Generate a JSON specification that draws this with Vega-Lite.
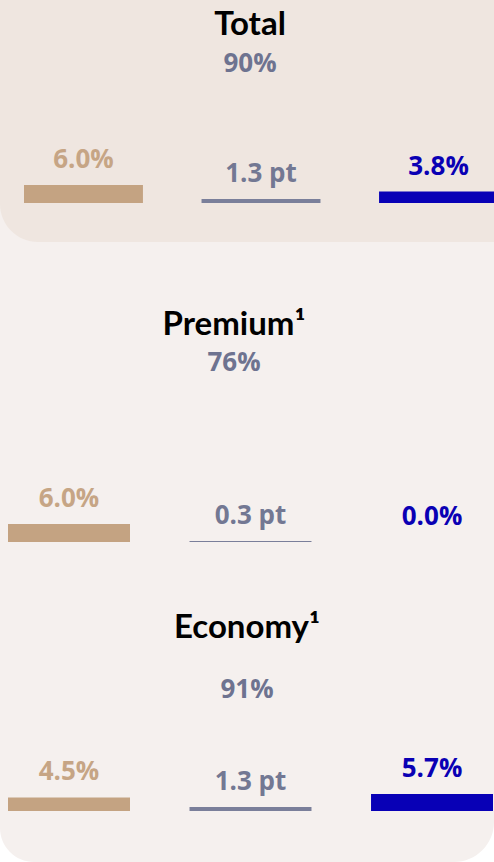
{
  "$schema": "https://vega.github.io/schema/vega-lite/v6.json",
  "background": "white",
  "padding": 0,
  "spacing": 0,
  "config": {"view": {"stroke": null}, "concat": {"spacing": 0}},
  "datasets": {
    "bars": [
      {"panel": "Total", "metric": "left", "value": 6.0, "label": "6.0%"},
      {"panel": "Total", "metric": "mid", "value": 1.3, "label": "1.3 pt"},
      {"panel": "Total", "metric": "right", "value": 3.8, "label": "3.8%"},
      {"panel": "Premium", "metric": "left", "value": 6.0, "label": "6.0%"},
      {"panel": "Premium", "metric": "mid", "value": 0.3, "label": "0.3 pt"},
      {"panel": "Premium", "metric": "right", "value": 0.0, "label": "0.0%"},
      {"panel": "Economy", "metric": "left", "value": 4.5, "label": "4.5%"},
      {"panel": "Economy", "metric": "mid", "value": 1.3, "label": "1.3 pt"},
      {"panel": "Economy", "metric": "right", "value": 5.7, "label": "5.7%"}
    ]
  },
  "vconcat": [
    {
      "width": 494,
      "height": 242,
      "title": {"text": "Total", "subtitle": "90%", "frame": "group", "anchor": "middle", "orient": "top", "offset": -77, "dx": 3, "font": "Lato", "fontSize": 33, "fontWeight": "bold", "color": "#000000", "subtitleFont": "Open Sans", "subtitleFontSize": 26, "subtitleFontWeight": "bold", "subtitleColor": "#6E7390", "subtitlePadding": 9},
      "resolve": {"scale": {"color": "independent"}},
      "layer": [
        {"data": {"values": [{}]}, "mark": {"type": "rect", "color": "#F5F0EE"}, "encoding": {"x": {"value": 0}, "x2": {"value": "width"}, "y": {"value": 0}, "y2": {"value": "height"}}},
        {"data": {"values": [{}]}, "mark": {"type": "rect", "color": "#EFE6E0", "cornerRadiusBottomLeft": 38}, "encoding": {"x": {"value": 0}, "x2": {"value": "width"}, "y": {"value": 0}, "y2": {"value": "height"}}},
        {
          "data": {"name": "bars"},
          "transform": [{"filter": "datum.panel === 'Total'"}],
          "mark": {"type": "bar", "clip": true},
          "encoding": {
            "x": {"field": "metric", "type": "nominal", "scale": {"domain": ["left", "mid", "right"], "range": [24, 498], "paddingInner": 0.33, "paddingOuter": 0}, "axis": null},
            "y": {"field": "value", "type": "quantitative", "scale": {"domain": [-13, 67.667], "nice": false, "zero": false}, "axis": null},
            "y2": {"datum": 0},
            "color": {"field": "metric", "type": "nominal", "scale": {"domain": ["left", "mid", "right"], "range": ["#C4A382", "#7A7F9A", "#0800B6"]}, "legend": null}
          }
        },
        {
          "data": {"name": "bars"},
          "transform": [{"filter": "datum.panel === 'Total'"}],
          "mark": {"type": "text", "baseline": "alphabetic", "dy": -17, "font": "Open Sans", "fontSize": 26, "fontWeight": "bold"},
          "encoding": {
            "x": {"field": "metric", "type": "nominal", "axis": null},
            "y": {"field": "value", "type": "quantitative", "axis": null},
            "text": {"field": "label"},
            "color": {"field": "metric", "type": "nominal", "scale": {"domain": ["left", "mid", "right"], "range": ["#C6A585", "#737893", "#0A00B4"]}, "legend": null}
          }
        }
      ]
    },
    {
      "width": 494,
      "height": 328,
      "title": {"text": "Premium¹", "subtitle": "76%", "frame": "group", "anchor": "middle", "orient": "top", "offset": -134, "dx": -13, "font": "Lato", "fontSize": 33, "fontWeight": "bold", "color": "#000000", "subtitleFont": "Open Sans", "subtitleFontSize": 26, "subtitleFontWeight": "bold", "subtitleColor": "#6E7390", "subtitlePadding": 8},
      "resolve": {"scale": {"color": "independent"}},
      "layer": [
        {"data": {"values": [{}]}, "mark": {"type": "rect", "color": "#F5F0EE"}, "encoding": {"x": {"value": 0}, "x2": {"value": "width"}, "y": {"value": 0}, "y2": {"value": "height"}}},
        {
          "data": {"name": "bars"},
          "transform": [{"filter": "datum.panel === 'Premium'"}],
          "mark": {"type": "bar", "clip": true},
          "encoding": {
            "x": {"field": "metric", "type": "nominal", "scale": {"domain": ["left", "mid", "right"], "range": [8, 493], "paddingInner": 0.328, "paddingOuter": 0}, "axis": null},
            "y": {"field": "value", "type": "quantitative", "scale": {"domain": [-9.333, 100], "nice": false, "zero": false}, "axis": null},
            "y2": {"datum": 0},
            "color": {"field": "metric", "type": "nominal", "scale": {"domain": ["left", "mid", "right"], "range": ["#C4A382", "#7A7F9A", "#0800B6"]}, "legend": null}
          }
        },
        {
          "data": {"name": "bars"},
          "transform": [{"filter": "datum.panel === 'Premium'"}],
          "mark": {"type": "text", "baseline": "alphabetic", "dy": -17, "font": "Open Sans", "fontSize": 26, "fontWeight": "bold"},
          "encoding": {
            "x": {"field": "metric", "type": "nominal", "axis": null},
            "y": {"field": "value", "type": "quantitative", "axis": null},
            "text": {"field": "label"},
            "color": {"field": "metric", "type": "nominal", "scale": {"domain": ["left", "mid", "right"], "range": ["#C6A585", "#737893", "#0A00B4"]}, "legend": null}
          }
        }
      ]
    },
    {
      "width": 494,
      "height": 292,
      "title": {"text": "Economy¹", "subtitle": "91%", "frame": "group", "anchor": "middle", "orient": "top", "offset": -133, "dx": 0, "font": "Lato", "fontSize": 33, "fontWeight": "bold", "color": "#000000", "subtitleFont": "Open Sans", "subtitleFontSize": 26, "subtitleFontWeight": "bold", "subtitleColor": "#6E7390", "subtitlePadding": 32},
      "resolve": {"scale": {"color": "independent"}},
      "layer": [
        {"data": {"values": [{}]}, "mark": {"type": "rect", "color": "#F5F0EE", "cornerRadiusBottomLeft": 34, "cornerRadiusBottomRight": 40}, "encoding": {"x": {"value": 0}, "x2": {"value": "width"}, "y": {"value": 0}, "y2": {"value": "height"}}},
        {
          "data": {"name": "bars"},
          "transform": [{"filter": "datum.panel === 'Economy'"}],
          "mark": {"type": "bar", "clip": true},
          "encoding": {
            "x": {"field": "metric", "type": "nominal", "scale": {"domain": ["left", "mid", "right"], "range": [8, 493], "paddingInner": 0.328, "paddingOuter": 0}, "axis": null},
            "y": {"field": "value", "type": "quantitative", "scale": {"domain": [-17, 80.333], "nice": false, "zero": false}, "axis": null},
            "y2": {"datum": 0},
            "color": {"field": "metric", "type": "nominal", "scale": {"domain": ["left", "mid", "right"], "range": ["#C4A382", "#7A7F9A", "#0800B6"]}, "legend": null}
          }
        },
        {
          "data": {"name": "bars"},
          "transform": [{"filter": "datum.panel === 'Economy'"}],
          "mark": {"type": "text", "baseline": "alphabetic", "dy": -17, "font": "Open Sans", "fontSize": 26, "fontWeight": "bold"},
          "encoding": {
            "x": {"field": "metric", "type": "nominal", "axis": null},
            "y": {"field": "value", "type": "quantitative", "axis": null},
            "text": {"field": "label"},
            "color": {"field": "metric", "type": "nominal", "scale": {"domain": ["left", "mid", "right"], "range": ["#C6A585", "#737893", "#0A00B4"]}, "legend": null}
          }
        }
      ]
    }
  ]
}
